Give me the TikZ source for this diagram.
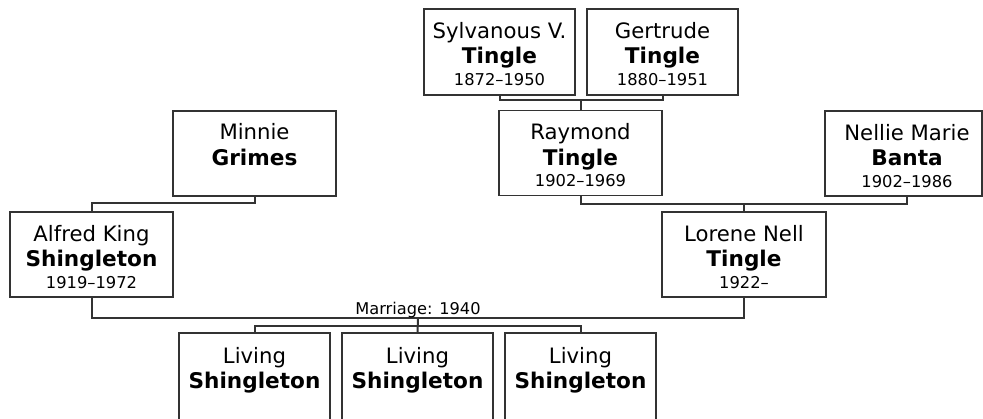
\documentclass[tikz,border=0pt]{standalone}
\usepackage{fontspec}
\setmainfont{DejaVu Sans}
\begin{document}
\begin{tikzpicture}[x=1pt,y=-1pt,
  box/.style={draw=black!80,line width=1.5pt,rectangle,inner sep=0pt,outer sep=0pt},
  conn/.style={draw=black!80,line width=2pt},
  fname/.style={anchor=base,inner sep=0pt,font=\fontsize{21.2}{24}\selectfont},
  lname/.style={anchor=base,inner sep=0pt,font=\fontsize{21.6}{24}\selectfont\bfseries},
  yrs/.style={anchor=base,inner sep=0pt,font=\fontsize{16.3}{19}\selectfont},
  lbl/.style={anchor=base,inner sep=0pt,font=\fontsize{16.2}{19}\selectfont}]
\useasboundingbox (0,0) rectangle (983,418);
\clip (0,0) rectangle (983,418);
% boxes: center, width, height
\newcommand{\pbox}[6]{%
  \node[box,minimum width=#4pt,minimum height=#5pt] (#1) at (#2,#3) {};}
\pbox{syl}{499.5}{52}{151}{86}{}
\pbox{ger}{662.5}{52}{151}{86}{}
\pbox{ray}{580.5}{153}{163}{85}{}
\pbox{min}{254.5}{153.5}{163}{85}{}
\node[box,minimum width=157pt,minimum height=85pt] (nel) at (903.5,153.5) {};
\pbox{alf}{91.5}{254.5}{163}{85}{}
\pbox{lor}{744}{254.5}{164}{85}{}
\pbox{ca}{254.5}{390}{151}{114}{}
\pbox{cb}{417.5}{390}{151}{114}{}
\pbox{cc}{580.5}{390}{151}{114}{}
% texts
\newcommand{\ptext}[5]{%
  \node[fname] (#1a) at ([xshift=#2pt,yshift=-29pt]#1.north) {#3};
  \node[lname] (#1b) at ([xshift=#2pt,yshift=-54.5pt]#1.north) {#4};
  \node[yrs] (#1c) at ([xshift=#2pt,yshift=-76pt]#1.north) {#5};}
\ptext{syl}{0}{Sylvanous V.}{Tingle}{1872–1950}
\ptext{ger}{0}{Gertrude}{Tingle}{1880–1951}
\ptext{ray}{0}{Raymond}{Tingle}{1902–1969}
\node[fname] (mina) at ([yshift=-28pt]min.north) {Minnie};
\node[lname] (minb) at ([yshift=-54pt]min.north) {Grimes};
\ptext{nel}{3.5}{Nellie Marie}{Banta}{1902–1986}
\ptext{alf}{0}{Alfred King}{Shingleton}{1919–1972}
\ptext{lor}{0}{Lorene Nell}{Tingle}{1922–}
\foreach \c in {ca,cb,cc}{
  \node[fname] (\c a) at ([yshift=-30pt]\c.north) {Living};
  \node[lname] (\c b) at ([yshift=-55pt]\c.north) {Shingleton};
}
% connectors
\coordinate (nelc) at (907,196);
\draw[conn] (syl.south) -- ++(0,5) -| (ger.south);
\draw[conn] (ray.north) -- ++(0,-11);
\draw[conn] (ray.south) -- ++(0,8) -| (nelc);
\draw[conn] (lor.north) -- ++(0,-9);
\draw[conn] (min.south) -- ++(0,7) -| (alf.north);
\draw[conn] (alf.south) -- ++(0,21) -| (lor.south);
\node[lbl] (mar) at (418,314) {Marriage: 1940};
\coordinate (mdrop) at (418,318);
\draw[conn] (ca.north) -- ++(0,-7) -| (cc.north);
\draw[conn] (cb.north) -- (mdrop);
\end{tikzpicture}
\end{document}
